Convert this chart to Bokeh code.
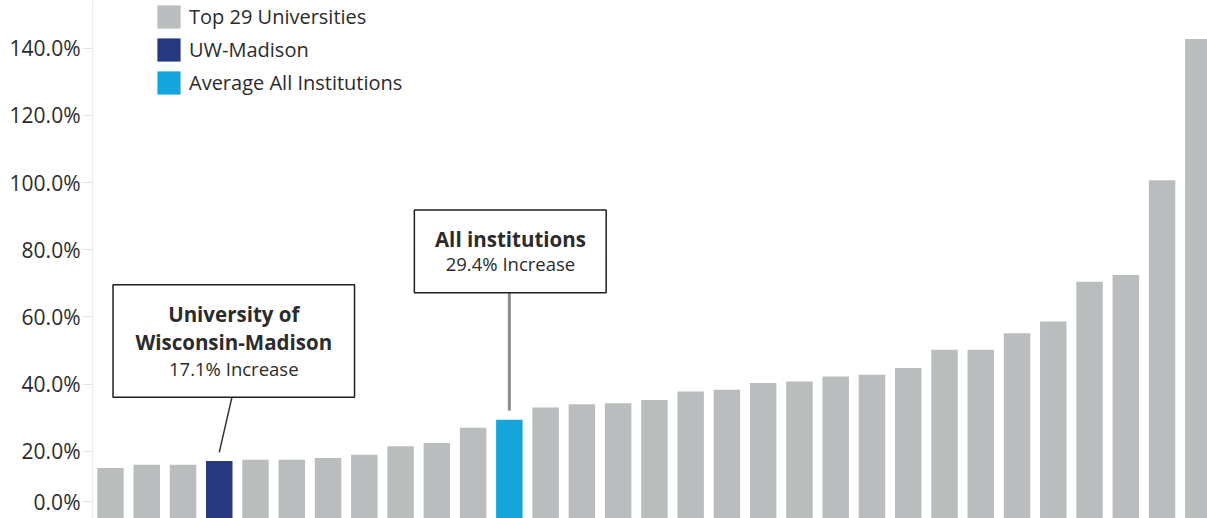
from bokeh.plotting import figure
from bokeh.models import (ColumnDataSource, Range1d, FixedTicker, PrintfTickFormatter,
                          Legend, LegendItem, BoxAnnotation, Label)
from bokeh.embed import file_html
from bokeh.resources import INLINE

# ---------------- data ----------------
values = [15.0, 16.0, 16.0, 17.1, 17.5, 17.5, 18.0, 19.0, 21.5, 22.5, 27.0, 29.4, 33.0, 34.0,
          34.3, 35.3, 37.8, 38.3, 40.3, 40.8, 42.3, 42.8, 44.8, 50.2, 50.2, 55.1, 58.6,
          70.5, 72.5, 100.7, 142.7]
groups = (["Top 29 Universities"] * 3 + ["UW-Madison"] + ["Top 29 Universities"] * 7
          + ["Average All Institutions"] + ["Top 29 Universities"] * 19)
legend_labels = ["Top 29 Universities", "UW-Madison", "Average All Institutions"]
group_colors = ["#BABDBE", "#263880", "#14A5DC"]
y_ticks = [20, 40, 60, 80, 100, 120, 140]
zero_label = "0.0%"
uw_title = ["University of", "Wisconsin-Madison"]
uw_note = "17.1% Increase"
avg_title = "All institutions"
avg_note = "29.4% Increase"

positions = list(range(len(values)))
uw_idx = groups.index("UW-Madison")
avg_idx = groups.index("Average All Institutions")
uw_val = values[uw_idx]
avg_val = values[avg_idx]

FONT = "Open Sans"
TXT = "#2b2b2b"

p = figure(width=1207, height=518,
           x_range=Range1d(-0.496, 30.253), y_range=Range1d(0, 154.17),
           output_backend="svg", toolbar_location=None, x_axis_location=None,
           min_border_left=92, min_border_right=0, min_border_top=0, min_border_bottom=0)
p.grid.grid_line_color = None
p.outline_line_color = None
p.background_fill_color = "white"
p.border_fill_color = "white"

renderers = []
for lab, col in zip(legend_labels, group_colors):
    xs = [i for i, g in zip(positions, groups) if g == lab]
    ys = [v for v, g in zip(values, groups) if g == lab]
    src = ColumnDataSource(dict(x=xs, top=ys))
    r = p.vbar(x="x", top="top", bottom=0, width=0.73, source=src,
               fill_color=col, line_color=None)
    renderers.append(r)

# y axis
ya = p.yaxis[0]
ya.ticker = FixedTicker(ticks=[5] + y_ticks)
ya.formatter = PrintfTickFormatter(format="%.1f%%")
ya.major_label_overrides = {5: zero_label}
ya.major_label_text_font = FONT
ya.major_label_text_font_size = "21px"
ya.major_label_text_color = TXT
ya.axis_line_color = "#ececec"
ya.major_tick_line_color = "#e4e4e4"
ya.major_tick_out = 10
ya.major_tick_in = 0
ya.minor_tick_line_color = None
ya.major_label_standoff = 2

# legend
legend = Legend(items=[LegendItem(label=lab, renderers=[r]) for lab, r in zip(legend_labels, renderers)],
                location=(62, 421), padding=0, margin=0, spacing=4,
                glyph_width=29, glyph_height=29, label_height=29, label_standoff=6,
                label_text_font=FONT, label_text_font_size="20px", label_text_color=TXT,
                border_line_color=None, background_fill_alpha=0)
p.add_layout(legend)

# connectors
p.segment(x0=[avg_idx], y0=[67.2], x1=[avg_idx], y1=[avg_val + 2.7],
          line_color="#8c8c8c", line_width=3)
p.segment(x0=[uw_idx + 0.35], y0=[36.1], x1=[uw_idx], y1=[uw_val + 2.6],
          line_color="#333333", line_width=1.5)

# callout boxes
box_style = dict(fill_color="white", fill_alpha=1, line_color="#1f1f1f", line_alpha=1, line_width=1.5)
p.add_layout(BoxAnnotation(left=uw_idx - 2.93, right=uw_idx + 3.73, bottom=36.1, top=69.6, **box_style))
p.add_layout(BoxAnnotation(left=avg_idx - 2.62, right=avg_idx + 2.67, bottom=67.2, top=91.85, **box_style))

uw_cx = uw_idx + 0.40
for txt, yy in zip(uw_title, [61.0, 52.4]):
    p.add_layout(Label(x=uw_cx, y=yy, text=txt, text_align="center", text_baseline="middle",
                       text_font=FONT, text_font_size="20.5px", text_font_style="bold", text_color=TXT))
p.add_layout(Label(x=uw_cx, y=44.6, text=uw_note, text_align="center", text_baseline="middle",
                   text_font=FONT, text_font_size="18.5px", text_color=TXT))

avg_cx = avg_idx + 0.03
p.add_layout(Label(x=avg_cx, y=83.3, text=avg_title, text_align="center", text_baseline="middle",
                   text_font=FONT, text_font_size="20.5px", text_font_style="bold", text_color=TXT))
p.add_layout(Label(x=avg_cx, y=75.8, text=avg_note, text_align="center", text_baseline="middle",
                   text_font=FONT, text_font_size="18.5px", text_color=TXT))

open("out.html", "w").write(file_html(p, INLINE))
